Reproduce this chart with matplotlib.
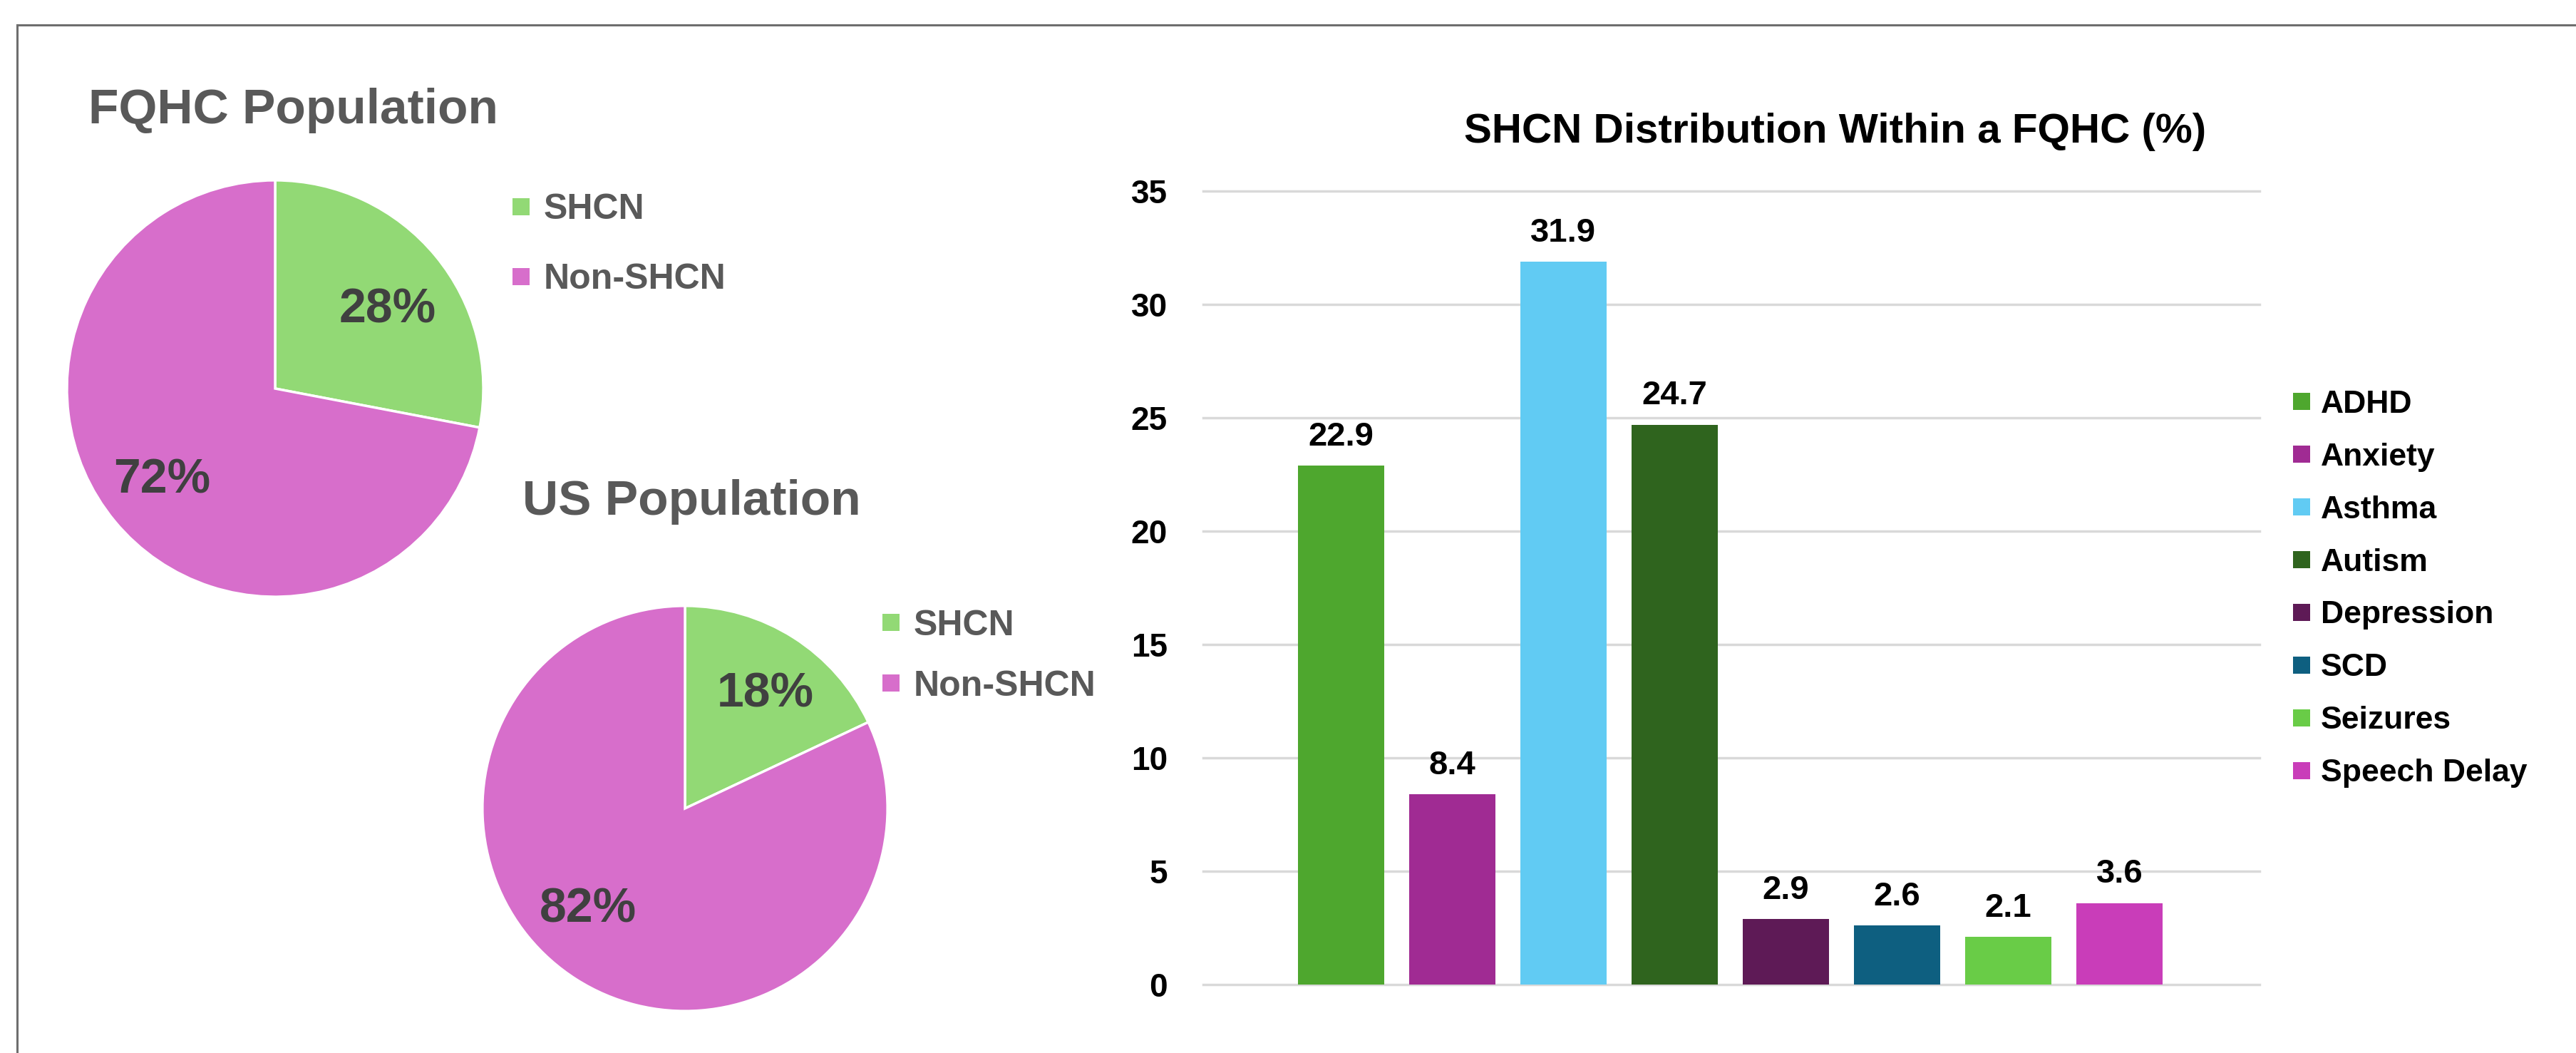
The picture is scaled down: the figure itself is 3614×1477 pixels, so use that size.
import matplotlib
matplotlib.use('Agg')
import matplotlib.pyplot as plt
from matplotlib.lines import Line2D
import numpy as np

plt.rcParams['font.family'] = ['Liberation Sans', 'DejaVu Sans']
plt.rcParams['font.weight'] = 'bold'

# data
pie_labels = ['SHCN', 'Non-SHCN']
fqhc_share = [28, 72]
us_share = [18, 82]
pie_colors = ['#92D975', '#D76ECB']

conditions = ['ADHD', 'Anxiety', 'Asthma', 'Autism', 'Depression', 'SCD', 'Seizures', 'Speech Delay']
shcn_pct = [22.9, 8.4, 31.9, 24.7, 2.9, 2.6, 2.1, 3.6]
bar_colors = ['#4EA72E', '#A02B93', '#61CBF3', '#2F641E', '#5E1A56', '#0E5F80', '#69CC47', '#C93DB9']

W, H = 3614, 1477
fig = plt.figure(figsize=(W / 100, H / 100), dpi=100)


def px_axes(x0, y0, x1, y1):
    # axes placed in pixel coords measured from the top-left corner
    return fig.add_axes([x0 / W, 1 - y1 / H, (x1 - x0) / W, (y1 - y0) / H])


def square(c):
    return Line2D([], [], marker='s', linestyle='none', markersize=17,
                  markerfacecolor=c, markeredgewidth=0)


def draw_pie(ax, vals, label_pos):
    _, _, pcts = ax.pie(vals, colors=pie_colors, startangle=90, counterclock=False,
                        autopct=lambda p: f'{p:.0f}%', pctdistance=0.68,
                        wedgeprops=dict(edgecolor='white', linewidth=2.5),
                        textprops=dict(fontsize=49, color='#404040', fontweight='bold'))
    # excel "best fit" label spots (angle in deg, radius fraction)
    for t, (ang, r) in zip(pcts, label_pos):
        a = np.deg2rad(ang)
        t.set_position((r * np.cos(a), r * np.sin(a)))
    ax.set_xlim(-1.01, 1.01)
    ax.set_ylim(-1.01, 1.01)


# FQHC pie
ax1 = px_axes(91, 250, 681, 840)
draw_pie(ax1, fqhc_share, [(35, 0.66), (219, 0.70)])
fig.text(124 / W, 1 - 173 / H, 'FQHC Population', fontsize=50, color='#595959',
         ha='left', va='baseline')
fig.legend([square(c) for c in pie_colors], pie_labels, loc='center left',
           bbox_to_anchor=(718 / W, 1 - 343 / H), frameon=False, fontsize=36,
           labelcolor='#595959', handlelength=0.5, handletextpad=0.4,
           labelspacing=1.04, borderpad=0, borderaxespad=0)

# US pie
ax2 = px_axes(674, 847, 1248, 1421)
draw_pie(ax2, us_share, [(55, 0.69), (226, 0.69)])
fig.text(733 / W, 1 - 722 / H, 'US Population', fontsize=50, color='#595959',
         ha='left', va='baseline')
fig.legend([square(c) for c in pie_colors], pie_labels, loc='center left',
           bbox_to_anchor=(1237 / W, 1 - 920 / H), frameon=False, fontsize=36,
           labelcolor='#595959', handlelength=0.5, handletextpad=0.4,
           labelspacing=0.78, borderpad=0, borderaxespad=0)

# bar chart
ax3 = px_axes(1688, 268, 3170, 1381)
x = np.arange(len(conditions))
bars = ax3.bar(x, shcn_pct, width=0.78, color=bar_colors, zorder=3)
ax3.set_xlim(-1.24, 8.26)
ax3.set_ylim(0, 35)
ax3.set_yticks(range(0, 36, 5))
ax3.set_xticks([])
ax3.grid(axis='y', color='#D9D9D9', linewidth=2.5)
ax3.set_axisbelow(True)
for gl in ax3.get_ygridlines():
    gl.set_clip_on(False)
for s in ax3.spines.values():
    s.set_visible(False)
ax3.tick_params(axis='y', length=0, pad=36, labelsize=33, labelcolor='black')
for t in ax3.get_yticklabels():
    t.set_fontweight('bold')
ax3.bar_label(bars, labels=[f'{v}' for v in shcn_pct], padding=13,
              fontsize=34, fontweight='bold', color='black')
fig.text(2575 / W, 1 - 200 / H, 'SHCN Distribution Within a FQHC (%)',
         fontsize=42, color='black', ha='center', va='baseline')
fig.legend([square(c) for c in bar_colors], conditions, loc='center left',
           bbox_to_anchor=(3217 / W, 1 - 826 / H), frameon=False, fontsize=32,
           labelcolor='black', handlelength=0.56, handletextpad=0.31,
           labelspacing=0.74, borderpad=0, borderaxespad=0)

# frame lines of the screenshot
fig.add_artist(Line2D([24 / W, 1], [1 - 35 / H, 1 - 35 / H], color='#6E6E6E',
                      lw=2.2, transform=fig.transFigure))
fig.add_artist(Line2D([24 / W, 24 / W], [0, 1 - 35 / H], color='#6E6E6E',
                      lw=2.2, transform=fig.transFigure))

fig.savefig('out.png', dpi=100)
